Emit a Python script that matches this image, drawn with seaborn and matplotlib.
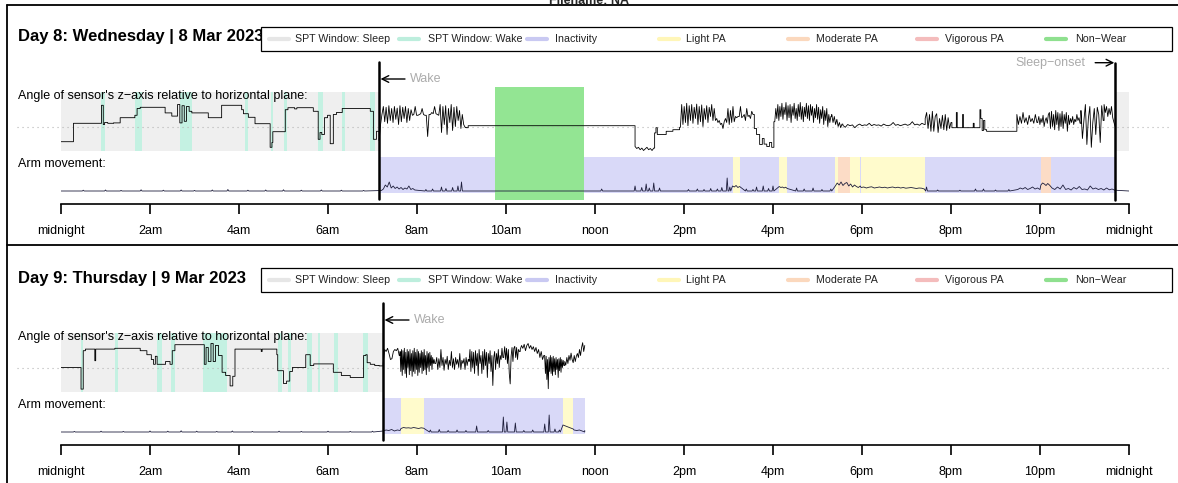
import numpy as np
import pandas as pd
import seaborn as sns
import matplotlib.pyplot as plt
from matplotlib.lines import Line2D
from matplotlib.patches import Rectangle

W, H = 1178, 483

hour_ticks = list(range(0, 25, 2))
hour_labels = ['midnight', '2am', '4am', '6am', '8am', '10am', 'noon',
               '2pm', '4pm', '6pm', '8pm', '10pm', 'midnight']

legend_names = ['SPT Window: Sleep', 'SPT Window: Wake', 'Inactivity', 'Light PA',
                'Moderate PA', 'Vigorous PA', 'Non\u2212Wear']
legend_colors = ['#e6e6e6', '#bdeedd', '#c9c9f2', '#fff6b8', '#fbd8bd', '#f4bcbc', '#8fe08f']

C_SLEEP = '#efefef'
C_SPTWAKE = '#c4f1e2'
C_INACT = '#d9d9f8'
C_LIGHT = '#fffbcc'
C_MOD = '#fcdcc6'
C_NONWEAR = '#93e593'

# ---------------- Day 8 : Wednesday ----------------
d8_title = 'Day 8: Wednesday | 8 Mar 2023'
d8_wake = 7.15
d8_onset = 23.69
d8_sleep = [(0.0, 7.15), (23.69, 24.0)]
d8_spt_wake = [(0.91, 0.98), (1.66, 1.83), (2.67, 2.94), (4.13, 4.21), (4.72, 4.77),
               (5.02, 5.07), (5.78, 5.89), (6.31, 6.38), (6.94, 7.06)]
d8_inactive = [(7.15, 23.69)]
d8_light = [(15.09, 15.25), (16.14, 16.32), (17.39, 17.45), (17.73, 17.96), (17.98, 19.41)]
d8_moderate = [(17.45, 17.73), (22.02, 22.25)]
d8_nonwear = [(9.75, 11.76)]

# angle (degrees): step knots for the calm parts
d8_angle_t = [0.00, 0.28, 0.91, 0.95, 0.98, 1.05, 1.18, 1.33, 1.66, 1.71, 1.78, 2.34, 2.49,
              2.62, 2.67, 2.72, 2.77, 2.82, 2.88, 2.94, 3.31, 3.61, 4.06, 4.10, 4.21, 4.36,
              4.70, 4.74, 4.76, 5.04, 5.10, 5.25, 5.30, 5.67, 5.78, 5.82, 5.86, 5.92, 5.99,
              6.05, 6.12, 6.19, 6.32, 6.95, 7.02, 7.09,
              9.10, 9.15, 12.88,
              13.34, 13.37, 13.40, 13.60, 13.75, 13.90,
              15.58, 15.63, 15.70, 15.76, 15.80, 15.86, 15.92, 15.97, 16.02,
              20.02, 20.12, 20.14, 20.26, 20.28, 20.50, 20.52, 20.65, 20.67, 20.70, 20.73,
              20.76, 20.80, 21.46]
d8_angle_v = [-38, 8, 53, 5, 10, 8, 9, 22, 28, 45, 48, 34, 26,
              55, 9, 52, 13, 50, 38, 34, 22, 53, 42, 32, 23, 7,
              -52, -40, -13, 42, 47, 44, 47, 38, -32, -15, -20, 22, 28,
              -43, 30, 35, 45, 38, -32, -12,
              -3, 2, 2,
              -16, -3, -20, -12, -8, -2,
              -5, -20, -45, -30, -44, -50, -40, -52, 12,
              -3, 35, -3, 30, -3, 8, -3, 42, 20, -10, 15,
              -8, -12, -12]
# angle (degrees): restless stretches, evenly sampled between the span ends
d8_angle_spans = [(7.15, 9.08), (12.90, 13.32), (13.92, 15.55), (16.04, 17.30),
                  (17.32, 17.55), (17.57, 19.40), (19.42, 20.00), (21.48, 21.93),
                  (21.95, 22.90), (22.92, 23.42), (23.44, 23.69)]
d8_angle_bursts = [
    [-35, 5, 30, 50, 12, 48, 8, 52, 15, 45, 10, 50, 18, 46, 5, 52, 12, 48, 20, 50, 10,
     45, 15, 42, 28, 30, 50, 28, 28, 30, 32, 45, 30, 28, 28, -25, 30, 30, 35, 32, 50, 32,
     30, 28, 55, -15, 50, 5, 52, -20, 45, 10, 55, -10, 48, 0, 50, 15, 40, -5, 30, 5, -2],
    [-50, -55, -52, -58, -54, -60, -56, -52, -58, -55, -60, -54],
    [0, 55, 5, 50, 10, 58, 2, 52, 15, 55, 8, 48, 20, 56, 5, 50, 12, 54, 0, 45, 18, 52,
     10, 48, 25, 55, 15, 45, 15, 20, 10, 15, 5, 8, -5, 12, 20, 10, 45, 5, 40, 10, 50, 12,
     25, 22, 25, 25, 50, 22, 25, 30, 15, 45, 25, 28, 20, 38, 30],
    [12, 45, 20, 55, 15, 50, 25, 58, 18, 48, 30, 60, 15, 52, 22, 55, 10, 50, 28, 58, 20,
     45, 15, 55, 25, 60, 18, 50, 12, 48, 25, 58, 20, 52, 15, 55, 28, 50, 10, 45, 22, 55,
     18, 48, 8, 42, 20, 50, 5, 40, 15, 45, 0, 30, 10, 25],
    [30, 10, 25, 5, 18, 0, 10, -3, 6],
    [3, -2, 5, 2, 4, -3, 3, 6, 2, 4, 3, 8, 2, 5, 3, 4, 1, 6, 3, 2, 4, 10, 3, 5, 2, 4, 6,
     3, 5, 12, 4, 6, 3, 8, 5],
    [20, 35, -5, 30, -12, 38, -12, 25, 32, -15, 20, -5, 28, -8, 30, -10, 22, -5, 10],
    [30, 5, 25, 8, 35, 10, 22, 5, 28, 12, 20, 8, 30, 10],
    [12, 25, 5, 20, 10, 28, 0, 15, 22, 8, 30, 35, -5, 38, 0, 30, -8, 40, 5, 35, -10, 32,
     0, 38, -5, 30, 8, 35, -12, 28, 5, 20, 10, 25, 5, 18, 12, 30, 15, 22, 8],
    [40, -30, 15, 55, -45, 20, 50, -52, 10, 45, -20, 48, 30, -40, 52, 15],
    [55, 35, 50, 25, 45, 30, 50, 22, 10, 0],
]

# arm movement (mg): isolated spikes and sustained bouts
d8_arm_spike_t = [0.5, 1.0, 1.35, 1.8, 2.3, 2.7, 3.0, 3.4, 3.75, 4.2, 4.6, 5.0, 5.4, 5.85,
                  6.3, 6.8, 8.2, 8.35, 8.55, 8.65, 8.8, 8.92, 9.0, 12.15, 12.9, 13.05,
                  13.15, 13.22, 13.32, 13.45, 14.1, 14.3, 14.45, 14.6, 14.75, 14.85, 14.97,
                  15.03, 15.4, 15.55, 15.63, 15.78, 15.9, 16.0, 16.53, 16.7, 16.9, 17.1,
                  17.3, 19.45, 19.7, 20.2, 20.55, 20.73, 21.0, 21.3]
d8_arm_spike_v = [8, 10, 6, 12, 8, 10, 6, 10, 15, 8, 10, 12, 8, 10,
                  8, 6, 15, 20, 40, 25, 35, 50, 90, 20, 50, 35,
                  70, 30, 80, 30, 15, 20, 15, 25, 20, 35, 130,
                  40, 20, 15, 40, 50, 25, 50, 30, 20, 30, 15,
                  20, 40, 10, 8, 20, 20, 10, 15]
d8_arm_spans = [(7.20, 7.95), (15.09, 15.25), (16.14, 16.32), (17.40, 17.96),
                (17.98, 19.40), (21.50, 22.00), (22.02, 22.25), (22.27, 23.68)]
d8_arm_bursts = [
    [5, 20, 60, 40, 90, 30, 50, 25, 40, 20, 35, 15, 30, 20, 50, 15, 25, 10],
    [50, 40, 55, 35, 45],
    [45, 35, 40, 30, 38, 25],
    [50, 80, 60, 90, 55, 75, 85, 50, 70, 40, 60, 45, 35, 50],
    [35, 40, 30, 38, 42, 30, 35, 40, 33, 38, 30, 36, 40, 32, 38, 30, 35, 28, 32, 35, 30,
     25, 30, 28, 20],
    [15, 30, 20, 35, 15, 25, 40, 20, 30, 15],
    [60, 80, 70, 55, 75, 60, 40],
    [30, 15, 40, 20, 60, 15, 25, 10, 35, 20, 45, 15, 20, 10, 50, 20, 30, 15, 25, 10, 30,
     12, 20, 8],
]
d8_arm_end = 24.0

# ---------------- Day 9 : Thursday ----------------
d9_title = 'Day 9: Thursday | 9 Mar 2023'
d9_wake = 7.24
d9_onset = None
d9_sleep = [(0.0, 7.23)]
d9_spt_wake = [(0.45, 0.50), (1.21, 1.27), (2.15, 2.26), (2.47, 2.56), (3.20, 3.72),
               (4.88, 4.96), (5.09, 5.16), (5.52, 5.63), (5.78, 5.83), (6.14, 6.23),
               (6.79, 6.91)]
d9_inactive = [(7.24, 11.77)]
d9_light = [(7.64, 8.15), (11.28, 11.51)]
d9_moderate = []
d9_nonwear = []

d9_angle_t = [0.00, 0.45, 0.50, 0.55, 0.74, 0.76, 0.78, 1.21, 1.78, 1.93, 2.03, 2.08, 2.12,
              2.16, 2.35, 2.45, 2.50, 2.56, 3.20, 3.22, 3.26, 3.31, 3.37, 3.42, 3.47, 3.54,
              3.62, 3.70, 3.80, 3.86, 3.91, 4.50, 4.52, 4.85, 4.87, 5.00, 5.07, 5.14, 5.20,
              5.33, 5.50, 5.60, 5.68, 6.12, 6.30, 6.50, 6.80, 6.85, 6.88, 6.95, 7.05, 7.15]
d9_angle_v = [0, -54, 42, 46, 46, 17, 46, 48, 42, 32, 20, 8, 28,
              8, 15, 8, 42, 57, 57, 8, 50, 15, 60, 15, 55, 30,
              -12, -20, -46, -22, 46, 40, 46, 32, -8, -40, -34, -10, 0,
              0, 32, 5, 9, -12, -20, -25, 30, 32, 12, 8, 5, 4]
d9_angle_spans = [(7.24, 7.60), (7.62, 8.40), (8.42, 9.15), (9.17, 9.93), (9.95, 10.30),
                  (10.32, 10.85), (10.87, 11.30), (11.32, 11.77)]
d9_angle_bursts = [
    [10, 45, 40, 48, 35, 20, 22, 40, 45, 42, 48, 30],
    [40, -10, 45, -20, 42, -5, 48, -15, 38, -25, 45, 0, 40, -18, 45, -8, 35, -22, 42, -10,
     48, -15, 38, -5, 45, -20, 40, -12, 35, 0, 42, -15, 38, -8, 45, -5, 30, -18, 40, 0,
     35, -10, 38, 5, 30, -5, 25, 10, 20, 10],
    [10, 25, -5, 22, 0, 45, 5, 25, -7, 20, 8, 28, -5, 18, 5, 40, 0, 22, -5, 25, 8, 20, 0,
     35, -5, 18, 10, 22, -5, 25, 5, 20],
    [15, 45, -10, 40, 0, 38, -15, 42, 5, 35, -20, 45, 10, 30, -15, 40, -5, 45, 5, 38, -25,
     35, 10, 42, -10, 30, -45, 25, 40, -5, 35, 10, 45, 0, 30, 20, 48, 25],
    [30, 52, 20, 48, 10, 45, -15, -41, 28, 50, 15, 48, 53, 25, 50, 20, 45, 40],
    [45, 55, 48, 58, 42, 55, 60, 48, 55, 45, 52, 40, 50, 35, 45, 25, 40, 20, 30],
    [25, -15, 28, -30, 20, -53, 25, -10, 30, -15, 25, -20, 28, -10, 22, -18, 25, -5, 20,
     -25, 22, -8, 25, -12, 20, 0, 18, 5],
    [15, 6, 25, 10, 30, 18, 36, 20, 12, 30, 15, 28, 35, 25, 45, 30, 50, 62, 40, 55],
]

d9_arm_spike_t = [0.3, 0.9, 1.4, 2.0, 2.4, 2.7, 3.05, 3.5, 3.85, 4.3, 4.9, 5.4, 6.0, 6.5,
                  7.0, 8.3, 8.5, 8.7, 8.9, 9.1, 9.34, 9.6, 9.94, 10.02, 10.21, 10.4, 10.6,
                  10.87, 10.97, 11.1, 11.2]
d9_arm_spike_v = [6, 8, 6, 10, 8, 12, 8, 6, 10, 6, 8, 6, 8, 6,
                  8, 20, 25, 15, 20, 15, 60, 15, 150, 100, 90, 15, 20,
                  80, 170, 30, 20]
d9_arm_spans = [(7.24, 7.62), (7.64, 8.15), (11.28, 11.51), (11.53, 11.77)]
d9_arm_bursts = [
    [10, 20, 15, 25, 10, 20, 15],
    [35, 45, 40, 42, 38, 45, 40, 35, 42, 38],
    [70, 60, 50, 40, 30],
    [20, 15, 20, 10, 15],
]
d9_arm_end = 11.77

ANGLE_ZERO, ANGLE_SCALE = 77.5, 0.4   # axis units per degree
ARM_ZERO, ARM_SCALE = 13.0, 0.1       # axis units per mg


def fx(px):
    return px / W


def fy(py):
    return 1 - py / H


def angle_frame(knot_t, knot_v, spans, bursts):
    # knots hold their value until the next change (step), bursts are drawn point to point
    events = [(t, v, True) for t, v in zip(knot_t, knot_v)]
    for (t0, t1), vals in zip(spans, bursts):
        ts = np.linspace(t0, t1, len(vals))
        events += [(t, v, i == 0) for i, (t, v) in enumerate(zip(ts, vals))]
    events.sort(key=lambda e: e[0])
    hours, angle = [], []
    prev = None
    for t, v, step in events:
        if step and prev is not None:
            hours.append(t)
            angle.append(prev)
        hours.append(t)
        angle.append(v)
        prev = v
    df = pd.DataFrame({'hour': hours, 'angle': angle})
    df['y'] = ANGLE_ZERO + df['angle'] * ANGLE_SCALE
    return df


def arm_frame(spike_t, spike_v, spans, bursts, end):
    t = [0.0, end]
    v = [0, 0]
    for st, sv in zip(spike_t, spike_v):
        t += [st - 0.02, st, st + 0.02]
        v += [0, sv, 0]
    for (t0, t1), vals in zip(spans, bursts):
        t += list(np.linspace(t0, t1, len(vals)))
        v += list(vals)
    df = pd.DataFrame({'hour': t, 'mg': v}).sort_values('hour', kind='stable')
    df['y'] = ARM_ZERO + df['mg'] * ARM_SCALE
    return df


def band(ax, spans, y0, y1, color, z=1):
    for t0, t1 in spans:
        ax.fill_between([t0, t1], y0, y1, color=color, lw=0, zorder=z)


def draw_day(fig, off, title, wake, onset, sleep, spt_wake, inactive, light, moderate,
             nonwear, angle_df, arm_df):
    ax = fig.add_axes([fx(61), fy(204 + off), fx(1129) - fx(61), 148 / H])
    ax.set_xlim(0, 24)
    ax.set_ylim(0, 148)
    ax.patch.set_alpha(0)

    band(ax, sleep, 53.3, 111.7, C_SLEEP)
    band(ax, spt_wake, 53.3, 111.7, C_SPTWAKE)
    band(ax, inactive, 10.7, 47.3, C_INACT)
    band(ax, light, 10.7, 47.3, C_LIGHT, 2)
    band(ax, moderate, 10.7, 47.3, C_MOD, 2)
    band(ax, nonwear, 4, 117, C_NONWEAR, 2)

    ax.plot([-0.99, 24.92], [ANGLE_ZERO, ANGLE_ZERO], ls=(0, (1, 3.5)), color='#b5b5b5',
            lw=0.8, clip_on=False, zorder=2)

    sns.lineplot(data=angle_df, x='hour', y='y', ax=ax, color='black', lw=0.6,
                 estimator=None, sort=False, zorder=3)
    sns.lineplot(data=arm_df, x='hour', y='y', ax=ax, color='#1e1e3c', lw=0.6,
                 estimator=None, sort=False, zorder=3)

    # wake marker
    ax.plot([wake, wake], [5, 142], color='black', lw=1.8, zorder=4, clip_on=False)
    ax.annotate('', xy=(wake + 0.03, 125), xytext=(wake + 0.58, 125),
                arrowprops=dict(arrowstyle='->', color='black', lw=1.0,
                                shrinkA=0, shrinkB=0), annotation_clip=False)
    ax.text(wake + 0.69, 125, 'Wake', color='#ababab', fontsize=9, va='center', ha='left')
    if onset is not None:
        ax.plot([onset, onset], [4, 141.3], color='black', lw=1.8, zorder=4, clip_on=False)
        ax.annotate('', xy=(onset - 0.02, 141.3), xytext=(onset - 0.45, 141.3),
                    arrowprops=dict(arrowstyle='->', color='black', lw=1.0,
                                    shrinkA=0, shrinkB=0), annotation_clip=False)
        ax.text(onset - 0.66, 141.3, 'Sleep\u2212onset', color='#ababab', fontsize=9,
                va='center', ha='right')

    for s in ['top', 'left', 'right']:
        ax.spines[s].set_visible(False)
    ax.spines['bottom'].set_linewidth(1.2)
    ax.spines['bottom'].set_color('black')
    ax.set_xticks(hour_ticks)
    ax.set_xticklabels(hour_labels, fontsize=9, color='black')
    ax.tick_params(axis='x', bottom=True, direction='out', length=7.5, width=1.2,
                   pad=7.5, color='black')
    ax.set_yticks([])
    ax.set_xlabel('')
    ax.set_ylabel('')

    # texts on the left
    fig.text(fx(18), fy(37 + off), title, fontsize=12, weight='bold', va='center',
             ha='left', color='black')
    fig.text(fx(18), fy(96 + off), 'Angle of sensor\'s z\u2212axis relative to horizontal plane:',
             fontsize=9, va='center', ha='left', color='black')
    fig.text(fx(18), fy(164 + off), 'Arm movement:', fontsize=9, va='center', ha='left',
             color='black')

    # legend box
    fig.add_artist(Rectangle((fx(261), fy(50.7 + off)), fx(1172) - fx(261), 24 / H,
                             transform=fig.transFigure, facecolor='white',
                             edgecolor='black', lw=0.9, zorder=5))
    line_x = [269, 399, 527, 659, 788, 917, 1046]
    text_x = [295, 428, 555, 686, 816, 945, 1075]
    for name, col, lx, tx in zip(legend_names, legend_colors, line_x, text_x):
        fig.add_artist(Line2D([fx(lx), fx(lx + 20)], [fy(39 + off)] * 2, color=col, lw=3,
                              transform=fig.transFigure, zorder=6))
        fig.text(fx(tx), fy(39 + off), name, fontsize=7.7, va='center', ha='left',
                 color='#222222', zorder=6)
    return ax


sns.set_theme(style="white")
plt.rcParams['font.family'] = ['Liberation Sans', 'DejaVu Sans']

fig = plt.figure(figsize=(W / 100, H / 100), dpi=100)

d8_angle = angle_frame(d8_angle_t, d8_angle_v, d8_angle_spans, d8_angle_bursts)
d8_arm = arm_frame(d8_arm_spike_t, d8_arm_spike_v, d8_arm_spans, d8_arm_bursts, d8_arm_end)
d9_angle = angle_frame(d9_angle_t, d9_angle_v, d9_angle_spans, d9_angle_bursts)
d9_arm = arm_frame(d9_arm_spike_t, d9_arm_spike_v, d9_arm_spans, d9_arm_bursts, d9_arm_end)

draw_day(fig, 0, d8_title, d8_wake, d8_onset, d8_sleep, d8_spt_wake, d8_inactive,
         d8_light, d8_moderate, d8_nonwear, d8_angle, d8_arm)
draw_day(fig, 241, d9_title, d9_wake, d9_onset, d9_sleep, d9_spt_wake, d9_inactive,
         d9_light, d9_moderate, d9_nonwear, d9_angle, d9_arm)

# page frame
for xs, ys in [([7, W], [5, 5]), ([7, W], [245, 245]), ([7, 7], [5, H])]:
    fig.add_artist(Line2D([fx(x) for x in xs], [fy(y) for y in ys], color='black', lw=1.3,
                          transform=fig.transFigure))
fig.text(fx(589), fy(3.5), 'Filename: NA', fontsize=9, weight='bold', ha='center',
         va='baseline')

fig.savefig('out.png', dpi=100)
